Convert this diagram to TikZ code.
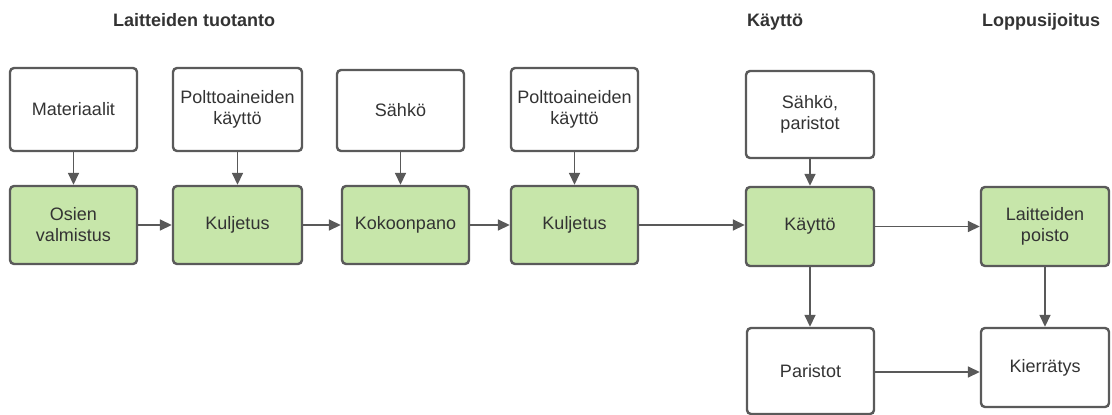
\documentclass[tikz,border=0pt]{standalone}
\usepackage{fontspec}
\setmainfont{Liberation Sans}
\usetikzlibrary{arrows.meta,calc}
\definecolor{bord}{HTML}{5A5A5A}
\definecolor{grn}{HTML}{C7E6AA}
\definecolor{txt}{HTML}{333333}
\definecolor{arr}{HTML}{595959}
\tikzset{
  box/.style={draw=bord, line width=2.4pt, rounded corners=4pt, fill=white,
    align=center, text=txt, inner sep=2pt,
    font=\fontsize{18}{21}\selectfont},
  gbox/.style={box, fill=grn},
  hdr/.style={anchor=base west, text=txt, inner sep=0pt,
    font=\fontsize{18}{22}\selectfont\bfseries},
  conn/.style={draw=arr, line width=1.6pt, -{Triangle[length=12pt,width=11pt]}}
}
\begin{document}
\begin{tikzpicture}[x=1pt,y=-1pt]
\useasboundingbox (0,0) rectangle (1112,415);
% headers
\node[hdr] (h1) at (113,26) {Laitteiden tuotanto};
\node[hdr] (h2) at (747,26) {Käyttö};
\node[hdr] (h3) at (982,26) {Loppusijoitus};
% top row
\node[box, minimum width=127pt, minimum height=83pt] (T1) at (73.5,109.5) {Materiaalit};
\node[box, minimum width=129pt, minimum height=83pt] (T2) at (237.5,109.5) {Polttoaineiden\\käyttö};
\node[box, minimum width=127pt, minimum height=81pt] (T3) at (400.5,110.5) {Sähkö};
\node[box, minimum width=127pt, minimum height=83pt] (T4) at (574.5,109.5) {Polttoaineiden\\käyttö};
\node[box, minimum width=128pt, minimum height=87pt] (T5) at (810,114.5) {Sähkö,\\paristot};
% green row
\node[gbox, minimum width=127pt, minimum height=78pt] (G1) at (73.5,225) {Osien\\valmistus};
\node[gbox, minimum width=129pt, minimum height=78pt] (G2) at (237.5,225) {Kuljetus};
\node[gbox, minimum width=127pt, minimum height=78pt] (G3) at (405.5,225) {Kokoonpano};
\node[gbox, minimum width=127pt, minimum height=78pt] (G4) at (574.5,225) {Kuljetus};
\node[gbox, minimum width=128pt, minimum height=79pt] (G5) at (810,226.5) {Käyttö};
\node[gbox, minimum width=128pt, minimum height=79pt] (G6) at (1045,226.5) {Laitteiden\\poisto};
% bottom row
\node[box, minimum width=127pt, minimum height=86pt] (B1) at (810.5,371) {Paristot};
\node[box, minimum width=128pt, minimum height=79pt] (B2) at (1045,367.5) {Kierrätys};
% vertical connectors
\draw[conn] (T1.south) -- (G1.north);
\draw[conn] (T2.south) -- (G2.north);
\draw[conn] (T3.south) -- (T3.south |- G3.north);
\draw[conn] (T4.south) -- (G4.north);
\draw[conn] (T5.south) -- (G5.north);
\draw[conn] (G5.south) -- (B1.north -| G5.south);
\draw[conn] (G6.south) -- (B2.north);
% horizontal connectors
\draw[conn] (G1.east) -- (G2.west);
\draw[conn] (G2.east) -- (G3.west);
\draw[conn] (G3.east) -- (G4.west);
\draw[conn] (G4.east) -- (G4.east -| G5.west);
\draw[conn] (G5.east) -- (G6.west);
\draw[conn] ($(B1.east)+(0,1)$) -- ($(B1.east -| B2.west)+(0,1)$);
\end{tikzpicture}
\end{document}
